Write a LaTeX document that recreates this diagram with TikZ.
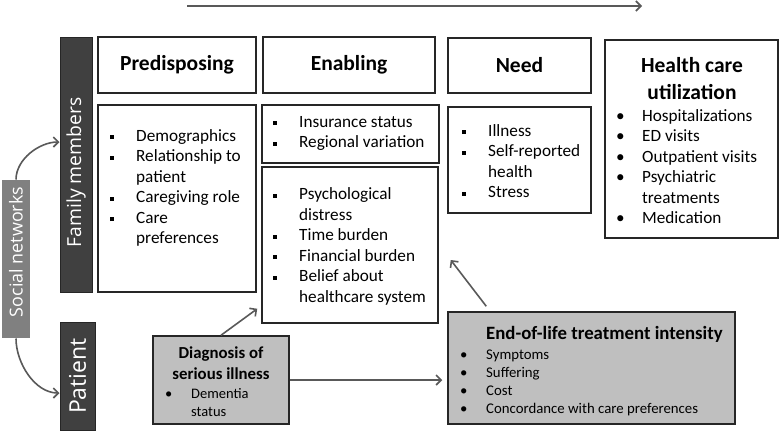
\documentclass[tikz,border=0pt]{standalone}
\usepackage{fontspec}
\setmainfont{Carlito}
\newfontfamily\barfont{Open Sans}
\usetikzlibrary{arrows.meta}

\definecolor{framegray}{HTML}{262626}
\definecolor{arrowgray}{HTML}{595959}
\definecolor{darkbar}{HTML}{404040}
\definecolor{midbar}{HTML}{808080}
\definecolor{lightfill}{HTML}{BFBFBF}

\newcommand{\sqb}{\makebox[26pt][l]{\rule[2pt]{4pt}{4pt}}}
\newcommand{\rdb}{\makebox[26pt][l]{\textbullet}}
\newcommand{\skipb}{\hspace*{26pt}}

\tikzset{
  frame/.style={draw=framegray, line width=1.5pt, fill=white, inner sep=0pt},
  header/.style={frame, font=\fontsize{21.5}{24}\selectfont\bfseries},
  bar/.style={fill=darkbar, draw=framegray, line width=1pt, text=white, rotate=90, inner sep=0pt},
  list/.style={anchor=base west, inner sep=0pt, align=left, font=\fontsize{17.2}{20.5}\selectfont},
  smalllist/.style={list, font=\fontsize{14.8}{18}\selectfont},
  arr/.style={draw=arrowgray, line width=1.6pt, -{Straight Barb[length=5pt,width=10pt]}},
}

\begin{document}
\begin{tikzpicture}[x=1pt, y=-1pt]

    \useasboundingbox (0,0) rectangle (780,432);

    % time arrow
    \coordinate (t0) at (187,6);
    \coordinate (t1) at (642,6);
    \draw[arr] (t0) -- (t1);

    % side bars
    \node[bar, minimum width=255pt, minimum height=32pt, font=\barfont\fontsize{19.3}{21}\selectfont] (fam) at (76,164.5) {Family members\hspace*{16pt}};
    \node[bar, minimum width=108pt, minimum height=35pt, font=\barfont\fontsize{23}{25}\selectfont] (pat) at (77.5,376) {Patient};
    \node[bar, fill=midbar, draw=none, minimum width=158pt, minimum height=28pt, font=\barfont\fontsize{17.9}{20}\selectfont] (soc) at (16,259) {\hspace*{14pt}Social networks};

    \draw[arr] (soc.east) to[out=90, in=180, looseness=0.9] ([yshift=22.5pt]fam.north);
    \draw[arr] (soc.west) to[out=-90, in=180, looseness=0.9] ([yshift=-17pt]pat.north);

    % headers
    \node[header, minimum width=158pt, minimum height=56pt] (predhead) at (177,65) {Predisposing};
    \node[header, minimum width=172pt, minimum height=56pt] (enabhead) at (349,65) {Enabling};
    \node[header, minimum width=143pt, minimum height=55pt] (needhead) at (519.5,65.5) {Need};

    % content boxes
    \node[frame, minimum width=158pt, minimum height=187pt] (pred) at (177,198.5) {};
    \node[frame, minimum width=177pt, minimum height=58pt] (enab1) at (350.5,134) {};
    \node[frame, minimum width=176pt, minimum height=156pt] (enab2) at (350,245) {};
    \node[frame, minimum width=143pt, minimum height=106pt] (need) at (519.5,160) {};
    \node[frame, minimum width=173pt, minimum height=198pt] (util) at (691.5,139) {};

    % lists (placed at the baseline of their last line)
    \node[list] (predtext) at (110,243.5) {\sqb Demographics\\ \sqb Relationship to\\ \skipb patient\\ \sqb Caregiving role\\ \sqb Care\\ \skipb preferences};
    \node[list] (enab1text) at (273,147.5) {\sqb Insurance status\\ \sqb Regional variation};
    \node[list] (enab2text) at (273,302) {\sqb Psychological\\ \skipb distress\\ \sqb Time burden\\ \sqb Financial burden\\ \sqb Belief about\\ \skipb healthcare system};
    \node[list] (needtext) at (462,197.5) {\sqb Illness\\ \sqb Self-reported\\ \skipb health\\ \sqb Stress};

    \node[anchor=base, inner sep=0pt, align=center, font=\fontsize{21.5}{27}\selectfont\bfseries] (utilhead) at (692,99) {Health care\\ utilization};
    \node[list] (utiltext) at (616,223.5) {\rdb Hospitalizations\\ \rdb ED visits\\ \rdb Outpatient visits\\ \rdb Psychiatric\\ \skipb treatments\\ \rdb Medication};

    % patient level
    \node[frame, fill=lightfill, minimum width=136pt, minimum height=88pt] (diag) at (221,380) {};
    \node[anchor=base, inner sep=0pt, align=center, font=\fontsize{16.8}{21}\selectfont\bfseries] (diaghead) at (221,379) {Diagnosis of\\ serious illness};
    \node[smalllist, font=\fontsize{14.5}{18}\selectfont] (diagtext) at (165,416) {\rdb Dementia\\ \skipb status};

    \node[frame, fill=lightfill, minimum width=287pt, minimum height=112pt] (eol) at (591.5,368) {};
    \node[anchor=base west, inner sep=0pt, font=\fontsize{18.8}{21}\selectfont\bfseries] (eolhead) at (486,339.5) {End-of-life treatment intensity};
    \node[smalllist] (eoltext) at (460,413) {\rdb Symptoms\\ \rdb Suffering\\ \rdb Cost\\ \rdb Concordance with care preferences};

    % links
    \draw[arr] (diag.north) -- ([xshift=-4pt, yshift=15pt]enab2.south west);
    \draw[arr, shorten >=5pt] (diag.east) -- (diag.east -| eol.west);
    \draw[arr] ([xshift=39pt, yshift=5pt]eol.north west) -- ([xshift=12pt, yshift=-15pt]enab2.east);

\end{tikzpicture}
\end{document}
